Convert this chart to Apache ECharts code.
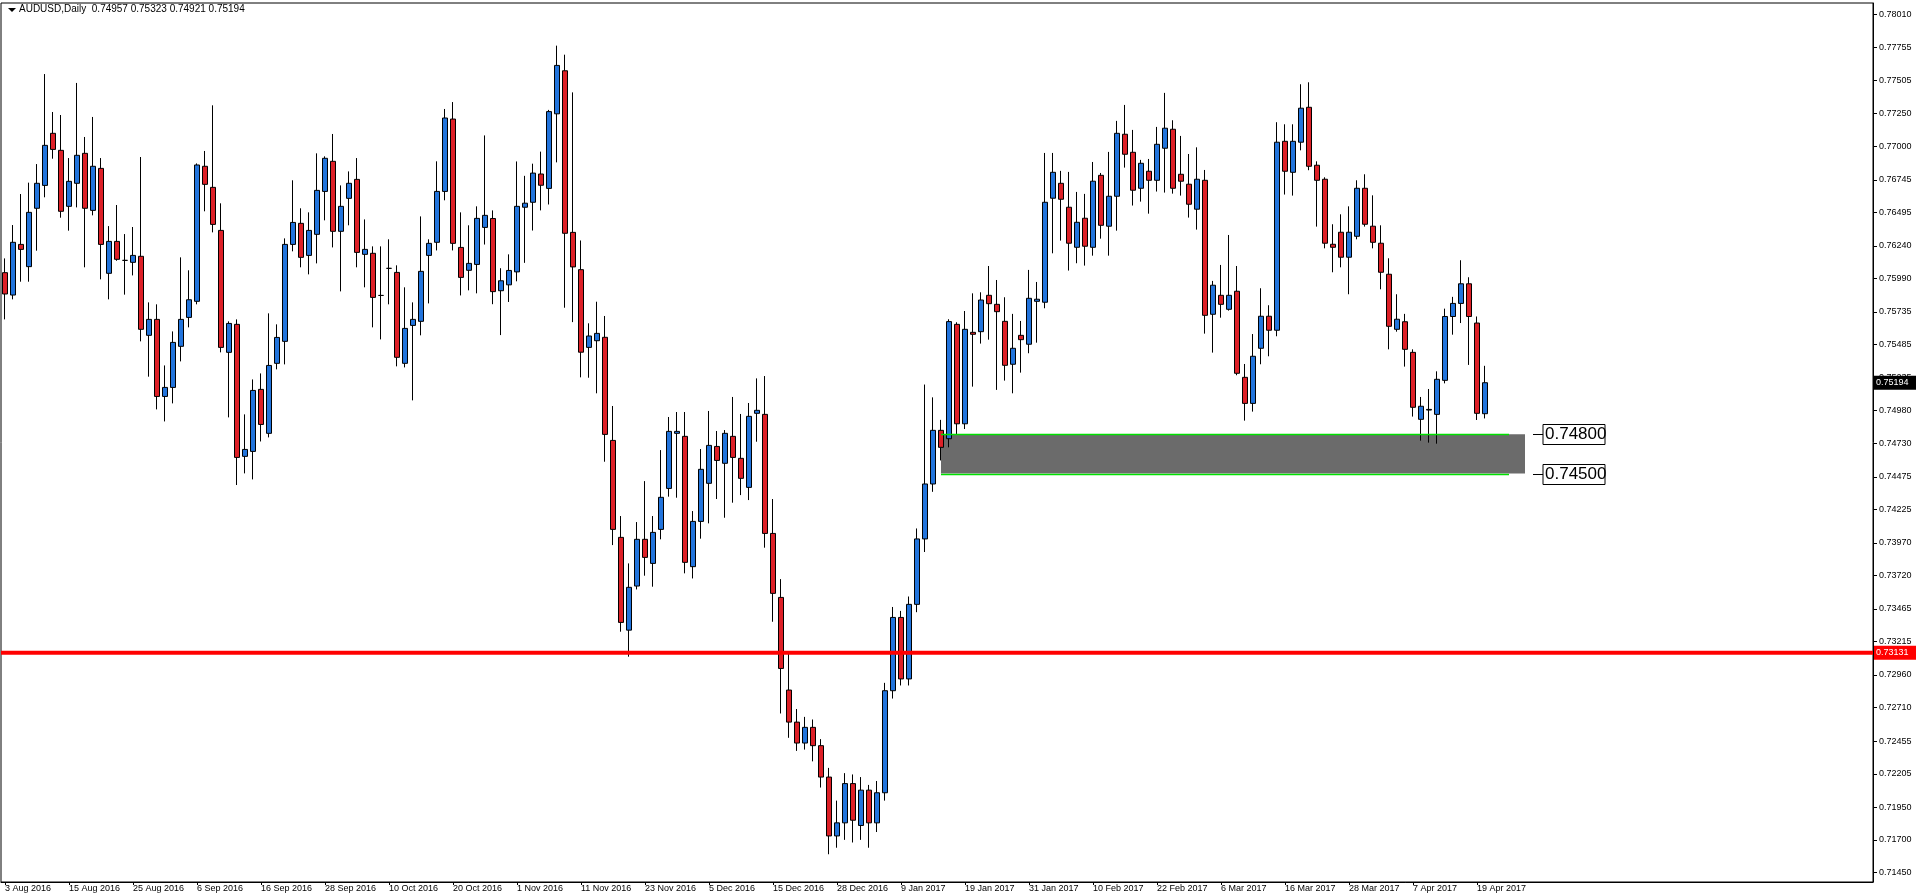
<!DOCTYPE html>
<html><head><meta charset="utf-8">
<script src="https://cdn.jsdelivr.net/npm/echarts@6/dist/echarts.min.js"></script>
<style>html,body{margin:0;padding:0;background:#fff;}#c{width:1916px;height:896px;}</style>
</head><body><div id="c"></div>
<script>
const title = "AUDUSD,Daily  0.74957 0.75323 0.74921 0.75194";
const startDate = "2016-08-03";
const skippedDates = ["2016-12-26"];
const totalSlots = 234;
const yTicks = [0.78010,0.77755,0.77505,0.77250,0.77000,0.76745,0.76495,0.76240,0.75990,0.75735,0.75485,0.75235,0.74980,0.74730,0.74475,0.74225,0.73970,0.73720,0.73465,0.73215,0.72960,0.72710,0.72455,0.72205,0.71950,0.71700,0.71450];
const supportLine = 0.73131;
const zoneTop = 0.74800, zoneBottom = 0.74500;
const lastPrice = 0.75194;

const open = [0.76035,0.75864,0.76251,0.76081,0.76527,0.76702,0.77100,0.76970,0.76542,0.76718,
0.76947,0.76511,0.76832,0.76030,0.76274,0.76129,0.76114,0.76160,0.75556,0.75678,
0.75089,0.75158,0.75472,0.75693,0.75816,0.76848,0.76687,0.76358,0.75426,0.75640,
0.74631,0.74669,0.75143,0.74807,0.75342,0.75510,0.76251,0.76412,0.76167,0.76328,
0.76656,0.76886,0.76351,0.76603,0.76748,0.76175,0.76183,0.75861,0.76068,0.76037,
0.75342,0.75632,0.75663,0.76167,0.76267,0.76656,0.77209,0.76228,0.76053,0.76098,
0.76381,0.76449,0.75897,0.75942,0.76041,0.76535,0.76573,0.76789,0.76679,0.77249,
0.77578,0.76343,0.76058,0.75464,0.75515,0.75541,0.74753,0.74012,0.73303,0.73640,
0.73997,0.73813,0.74073,0.74386,0.74807,0.74784,0.73788,0.74134,0.74425,0.74707,
0.74578,0.74784,0.74616,0.74394,0.74960,0.74952,0.74042,0.73553,0.72845,0.72600,
0.72440,0.72560,0.72420,0.72180,0.71730,0.71830,0.72130,0.71810,0.72080,0.71830,
0.72060,0.72840,0.73400,0.72930,0.73500,0.74000,0.74420,0.74830,0.74766,0.75640,
0.74880,0.75579,0.75584,0.75862,0.75793,0.75663,0.75335,0.75556,0.75488,0.75816,
0.75809,0.76604,0.76718,0.76535,0.76229,0.76451,0.76229,0.76779,0.76390,0.76619,
0.77093,0.76955,0.76680,0.76810,0.76741,0.76986,0.77131,0.76787,0.76711,0.76520,
0.76741,0.75717,0.75862,0.75755,0.75893,0.75235,0.75036,0.75457,0.75702,0.75595,
0.77039,0.76802,0.77032,0.77299,0.76856,0.76749,0.76252,0.76344,0.76153,0.76313,
0.76680,0.76390,0.76260,0.76023,0.75602,0.75660,0.75426,0.74914,0.74985,0.74952,
0.75212,0.75700,0.75800,0.75950,0.75650,0.74957];
const close = [0.75872,0.76267,0.76213,0.76496,0.76718,0.77008,0.76977,0.76504,0.76733,0.76932,
0.76527,0.76848,0.76251,0.76274,0.76137,0.76129,0.76167,0.75602,0.75678,0.75089,
0.75158,0.75502,0.75678,0.75828,0.76858,0.76710,0.76404,0.75464,0.75647,0.74623,
0.74684,0.75135,0.74875,0.75326,0.75540,0.76251,0.76419,0.76152,0.76358,0.76664,
0.76909,0.76351,0.76542,0.76718,0.76190,0.76213,0.75846,0.75861,0.76068,0.75388,
0.75609,0.75678,0.76045,0.76259,0.76656,0.77217,0.76259,0.75999,0.76106,0.76450,
0.76473,0.75890,0.75973,0.76052,0.76542,0.76566,0.76796,0.76703,0.77266,0.77619,
0.76336,0.76079,0.75427,0.75551,0.75571,0.74799,0.74073,0.73362,0.73630,0.73997,
0.73859,0.74050,0.74318,0.74822,0.74822,0.73821,0.74134,0.74532,0.74715,0.74600,
0.74807,0.74623,0.74463,0.74937,0.74983,0.74042,0.73584,0.73010,0.72600,0.72440,
0.72560,0.72420,0.72180,0.71730,0.71830,0.72130,0.71850,0.72080,0.71830,0.72060,
0.72840,0.73400,0.72930,0.73500,0.74000,0.74420,0.74830,0.74700,0.75661,0.74880,
0.75602,0.75564,0.75826,0.75798,0.75737,0.75327,0.75457,0.75523,0.75839,0.75832,
0.76573,0.76802,0.76596,0.76260,0.76420,0.76237,0.76734,0.76397,0.76619,0.77100,
0.76940,0.76665,0.76871,0.76741,0.77016,0.77139,0.76680,0.76734,0.76558,0.76749,
0.75709,0.75939,0.75793,0.75862,0.75266,0.75036,0.75396,0.75702,0.75595,0.77032,
0.76810,0.77039,0.77292,0.76848,0.76741,0.76260,0.76229,0.76153,0.76344,0.76680,
0.76405,0.76267,0.76038,0.75625,0.75679,0.75449,0.75006,0.75014,0.74990,0.75220,
0.75700,0.75800,0.75950,0.75700,0.74960,0.75194];
const low = [0.75678,0.75831,0.75966,0.75966,0.76203,0.76611,0.76906,0.76455,0.76356,0.76534,
0.76076,0.76473,0.75984,0.75831,0.76126,0.75867,0.76014,0.75510,0.75240,0.74990,
0.74898,0.75036,0.75357,0.75617,0.75793,0.76504,0.76343,0.75426,0.74929,0.74412,
0.74501,0.74455,0.74745,0.74776,0.75296,0.75334,0.76198,0.76076,0.76022,0.76106,
0.76435,0.76228,0.75892,0.76397,0.76076,0.75923,0.75617,0.75525,0.75793,0.75319,
0.75311,0.75059,0.75556,0.75800,0.76205,0.76588,0.76205,0.75861,0.75900,0.75877,
0.76250,0.75794,0.75558,0.75811,0.75969,0.76110,0.76357,0.76511,0.76556,0.76878,
0.75767,0.75657,0.75235,0.75232,0.75113,0.74590,0.73953,0.73291,0.73100,0.73614,
0.73719,0.73635,0.73997,0.74323,0.74315,0.73737,0.73698,0.74002,0.74119,0.74305,
0.74162,0.74277,0.74335,0.74297,0.74743,0.73933,0.73367,0.72666,0.72480,0.72380,
0.72390,0.72300,0.72100,0.71590,0.71640,0.71700,0.71680,0.71700,0.71640,0.71760,
0.72000,0.72780,0.72880,0.72880,0.73440,0.73900,0.74360,0.74600,0.74700,0.74800,
0.74840,0.75164,0.75493,0.75523,0.75139,0.75210,0.75113,0.75271,0.75419,0.75500,
0.75763,0.76183,0.76280,0.76051,0.76107,0.76089,0.76165,0.76295,0.76165,0.76356,
0.76838,0.76548,0.76578,0.76486,0.76655,0.76647,0.76639,0.76624,0.76456,0.76364,
0.75569,0.75424,0.75691,0.75745,0.75251,0.74904,0.74973,0.75335,0.75396,0.75549,
0.76632,0.76624,0.76970,0.76818,0.76387,0.76221,0.76038,0.76076,0.75870,0.76290,
0.76387,0.76221,0.75908,0.75449,0.75584,0.75317,0.74935,0.74751,0.74736,0.74728,
0.75189,0.75561,0.75650,0.75330,0.74909,0.74921];
const high = [0.76144,0.76399,0.76636,0.76723,0.76865,0.77553,0.77263,0.77240,0.76911,0.77485,
0.77072,0.77225,0.76911,0.76391,0.76552,0.76330,0.76384,0.76919,0.75808,0.75793,
0.75326,0.75586,0.76152,0.76053,0.76870,0.76965,0.77314,0.76565,0.75663,0.75678,
0.74952,0.75219,0.75265,0.75724,0.75640,0.76297,0.76741,0.76527,0.76496,0.76947,
0.76924,0.77095,0.76702,0.76809,0.76911,0.76442,0.76236,0.76236,0.76290,0.76091,
0.75923,0.75808,0.76465,0.76290,0.76886,0.77286,0.77339,0.76496,0.76397,0.76542,
0.77084,0.76511,0.76069,0.76175,0.76885,0.76775,0.76868,0.76960,0.77279,0.77770,
0.77701,0.77413,0.76281,0.75648,0.75813,0.75704,0.75016,0.74175,0.73813,0.74129,
0.74442,0.74175,0.74679,0.74932,0.74970,0.74970,0.74213,0.74687,0.74978,0.74825,
0.74832,0.75085,0.74955,0.75039,0.75227,0.75245,0.74305,0.73693,0.73126,0.72700,
0.72640,0.72620,0.72470,0.72250,0.72000,0.72210,0.72200,0.72180,0.72120,0.72150,
0.72900,0.73480,0.73450,0.73560,0.74080,0.75180,0.75082,0.74910,0.75679,0.75656,
0.75742,0.75877,0.75885,0.76086,0.75979,0.75847,0.75720,0.75666,0.76056,0.75964,
0.76950,0.76950,0.76813,0.76805,0.76652,0.76637,0.76881,0.76797,0.76958,0.77195,
0.77317,0.77126,0.76897,0.76904,0.77149,0.77409,0.77200,0.77080,0.76942,0.76993,
0.76820,0.75972,0.76094,0.76323,0.76086,0.75337,0.75566,0.75916,0.75786,0.77185,
0.77169,0.77169,0.77475,0.77490,0.76886,0.76764,0.76405,0.76481,0.76542,0.76741,
0.76787,0.76626,0.76397,0.76145,0.75870,0.75720,0.75449,0.75085,0.75146,0.75281,
0.75760,0.75850,0.76130,0.76000,0.75700,0.75323];

const months = ["Jan","Feb","Mar","Apr","May","Jun","Jul","Aug","Sep","Oct","Nov","Dec"];
const dates = [];
let d = new Date(startDate + "T00:00:00Z");
while (dates.length < open.length) {
  const iso = d.toISOString().slice(0,10);
  const wd = d.getUTCDay();
  if (wd !== 0 && wd !== 6 && skippedDates.indexOf(iso) < 0) {
    dates.push(d.getUTCDate() + " " + months[d.getUTCMonth()] + " " + d.getUTCFullYear());
  }
  d = new Date(d.getTime() + 86400000);
}
const categories = dates.slice();
while (categories.length < totalSlots) categories.push("");
const candles = open.map((o, i) => [o, close[i], low[i], high[i]]);

const FONT = "Liberation Sans";
const chart = echarts.init(document.getElementById('c'), null, {renderer: 'canvas'});
chart.setOption({
  animation: false,
  backgroundColor: '#ffffff',
  grid: {left: 1, right: 43, top: 3, bottom: 14, show: true, borderColor: '#000', borderWidth: 1, backgroundColor: 'transparent'},
  xAxis: {
    type: 'category', data: categories, boundaryGap: true,
    axisLine: {show: true, lineStyle: {color: '#000'}},
    axisTick: {show: true, alignWithLabel: true, length: 3, interval: (i, v) => i % 8 === 0 && v !== '', lineStyle: {color: '#000'}},
    axisLabel: {interval: (i, v) => i % 8 === 0 && v !== '', align: 'left', margin: 2, fontFamily: FONT, fontSize: 9, color: '#000'},
    splitLine: {show: false}
  },
  yAxis: {
    type: 'value', position: 'right', min: 0.71378, max: 0.78096, scale: true,
    axisLine: {show: true, lineStyle: {color: '#000'}},
    axisTick: {show: true, length: 4, customValues: yTicks, lineStyle: {color: '#000'}},
    axisLabel: {customValues: yTicks, formatter: v => v.toFixed(5), fontFamily: FONT, fontSize: 9, color: '#000', margin: 6},
    splitLine: {show: false}
  },
  series: [{
    type: 'candlestick', data: candles, barWidth: 5,
    itemStyle: {color: '#2274dc', color0: '#dd2027', borderColor: '#000', borderColor0: '#000', borderWidth: 1},
    markArea: {
      silent: true,
      itemStyle: {color: '#6b6b6b'},
      data: [[{xAxis: 117, yAxis: zoneTop}, {xAxis: 190, yAxis: zoneBottom}]]
    }
  }]
});

const gx = (i) => chart.convertToPixel({xAxisIndex: 0}, i);
const gy = (v) => chart.convertToPixel({yAxisIndex: 0}, v);
const gridRight = 1916 - 43, gridLeft = 1;
function zoneLabel(v) {
  const y = Math.round(gy(v)) + 0.5;
  const x0 = gx(191);
  return [
    {type: 'line', z: 10, shape: {x1: x0, y1: y, x2: x0 + 10, y2: y}, style: {stroke: '#000', lineWidth: 1}},
    {type: 'rect', z: 10, shape: {x: x0 + 10, y: y - 10, width: 62, height: 20}, style: {fill: '#fff', stroke: '#000', lineWidth: 1}},
    {type: 'text', z: 11, x: x0 + 12, y: y - 9, style: {text: v.toFixed(5), font: '17px "' + FONT + '"', fill: '#000'}}
  ];
}
function greenLine(v) {
  const y = Math.round(gy(v)) + 0.5;
  return {type: 'line', z: 9, shape: {x1: gx(117), y1: y, x2: gx(188), y2: y}, style: {stroke: '#00e000', lineWidth: 1.5}};
}
function tag(v, bg) {
  const y = gy(v);
  return [
    {type: 'rect', z: 12, shape: {x: gridRight + 1, y: y - 7, width: 42, height: 14}, style: {fill: bg}},
    {type: 'text', z: 13, x: gridRight + 3, y: y - 5, style: {text: v.toFixed(5), font: '9px "' + FONT + '"', fill: '#fff'}}
  ];
}
const ys = gy(supportLine);
chart.setOption({graphic: [
  {type: 'polygon', shape: {points: [[8,8],[16,8],[12,12]]}, style: {fill: '#000'}},
  {type: 'text', left: 19, top: 4, style: {text: title, font: '10px "' + FONT + '"', fill: '#000'}},
  {type: 'line', z: 8, shape: {x1: gridLeft, y1: ys, x2: gridRight, y2: ys}, style: {stroke: '#ff0000', lineWidth: 4}},
  greenLine(zoneTop), greenLine(zoneBottom)
].concat(zoneLabel(zoneTop), zoneLabel(zoneBottom), tag(supportLine, '#ff0000'), tag(lastPrice, '#000'))});
</script></body></html>
